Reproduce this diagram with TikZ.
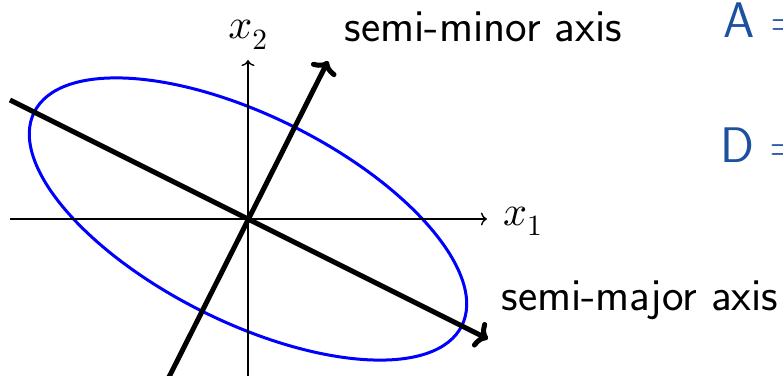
\documentclass[tikz,border=0pt]{standalone}
\DeclareFontFamily{OML}{cmm}{\skewchar\font'177}
\DeclareFontShape{OML}{cmm}{m}{it}{<->cmmi10}{}
\DeclareFontFamily{OT1}{cmr}{\hyphenchar\font45}
\DeclareFontShape{OT1}{cmr}{m}{n}{<->cmr10}{}
\usetikzlibrary{arrows.meta}
\definecolor{inkblue}{RGB}{30,80,160}
\begin{document}
\begin{tikzpicture}[x=1pt,y=1pt,
  axisline/.style={line width=1.4pt,-{To[length=6pt,width=13pt]}},
  principal/.style={line width=5pt,-{To[length=12pt,width=28pt]}},
  ellipsecurve/.style={draw=blue,line width=3pt},
  lbl/.style={inner sep=0pt,font=\fontsize{45.8}{46}\selectfont\sffamily},
  mathlbl/.style={inner sep=0pt,font=\fontsize{42}{42}\selectfont},
  hand/.style={inner sep=0pt,text=inkblue,font=\fontsize{50}{50}\selectfont\sffamily}]
\useasboundingbox (-248,-156) rectangle (535,219);
\clip (-248,-156) rectangle (535,219);
% coordinates
\coordinate (O) at (0,0);
\coordinate (x1s) at (-238,0);
\coordinate (x1e) at (239,0);
\coordinate (x2s) at (0,-170);
\coordinate (x2e) at (0,159);
\coordinate (maj1) at (-238,119);
\coordinate (maj2) at (240,-120);
\coordinate (min1) at (-85,-170);
\coordinate (min2) at (80,158);
% ellipse
\draw[ellipsecurve,rotate=-26.565] (O) ellipse [x radius=239, y radius=103];
% axes
\draw[axisline] (x1s) -- (x1e);
\draw[axisline] (x2s) -- (x2e);
% principal axes
\draw[principal] (maj1) -- (maj2);
\draw[principal] (min1) -- (min2);
% labels
\node[mathlbl,anchor=base] (lx2) at (0,180) {$x_2$};
\node[mathlbl,anchor=base west] (lx1) at (255,-6) {$x_1$};
\node[lbl,anchor=base] (lminor) at (235.5,177) {semi-minor axis};
\node[lbl,anchor=base] (lmajor) at (392,-91) {semi-major axis};
\node[hand,anchor=base west] (la) at (475,181) {A =};
\node[hand,anchor=base west] (ld) at (472,57) {D =};
\end{tikzpicture}
\end{document}
